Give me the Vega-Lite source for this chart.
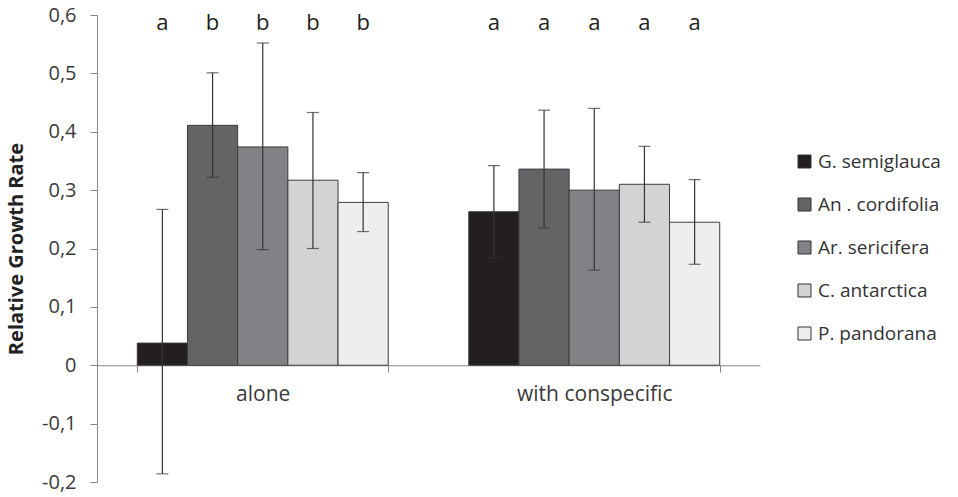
{
  "$schema": "https://vega.github.io/schema/vega-lite/v6.json",
  "width": 663,
  "height": 467,
  "autosize": "none",
  "padding": {"left": 97, "top": 15, "right": 198, "bottom": 15},
  "config": {"view": {"stroke": null}, "font": "Open Sans", "background": "white"},
  "data": {"values": [
    {"group": "alone", "species": "G. semiglauca", "value": 0.038, "lo": -0.186, "hi": 0.267, "letter": "a"},
    {"group": "alone", "species": "An . cordifolia", "value": 0.411, "lo": 0.322, "hi": 0.501, "letter": "b"},
    {"group": "alone", "species": "Ar. sericifera", "value": 0.374, "lo": 0.198, "hi": 0.552, "letter": "b"},
    {"group": "alone", "species": "C. antarctica", "value": 0.317, "lo": 0.2, "hi": 0.433, "letter": "b"},
    {"group": "alone", "species": "P. pandorana", "value": 0.279, "lo": 0.229, "hi": 0.33, "letter": "b"},
    {"group": "with conspecific", "species": "G. semiglauca", "value": 0.263, "lo": 0.184, "hi": 0.342, "letter": "a"},
    {"group": "with conspecific", "species": "An . cordifolia", "value": 0.336, "lo": 0.235, "hi": 0.437, "letter": "a"},
    {"group": "with conspecific", "species": "Ar. sericifera", "value": 0.3, "lo": 0.163, "hi": 0.44, "letter": "a"},
    {"group": "with conspecific", "species": "C. antarctica", "value": 0.31, "lo": 0.245, "hi": 0.375, "letter": "a"},
    {"group": "with conspecific", "species": "P. pandorana", "value": 0.245, "lo": 0.173, "hi": 0.318, "letter": "a"}
  ]},
  "encoding": {
    "x": {
      "field": "group", "type": "nominal", "sort": ["alone", "with conspecific"],
      "scale": {"paddingInner": 0.243, "paddingOuter": 0.1215},
      "axis": {"title": null, "labelAngle": 0, "offset": -116.75, "tickBand": "extent", "labelFontSize": 21, "labelPadding": 11, "labelColor": "#3a3a3a", "domainColor": "#888888", "tickColor": "#888888", "tickSize": 7}
    },
    "xOffset": {
      "field": "species", "type": "nominal",
      "sort": ["G. semiglauca", "An . cordifolia", "Ar. sericifera", "C. antarctica", "P. pandorana"],
      "scale": {"paddingInner": 0, "paddingOuter": 0}
    }
  },
  "layer": [
    {
      "mark": {"type": "bar", "stroke": "#3c3c3c", "strokeWidth": 1},
      "encoding": {
        "y": {
          "field": "value", "type": "quantitative", "title": "Relative Growth Rate",
          "scale": {"domain": [-0.2, 0.6], "nice": false, "zero": false},
          "axis": {
            "values": [-0.2, -0.1, 0, 0.1, 0.2, 0.3, 0.4, 0.5, 0.6],
            "labelExpr": "datum.value == 0 ? '0' : replace(replace(format(datum.value, '.1f'), '.', ','), '\u2212', '-')",
            "grid": false, "labelFontSize": 20, "labelColor": "#3a3a3a", "labelPadding": 14,
            "domainColor": "#888888", "tickColor": "#888888", "tickSize": 7,
            "titleFontSize": 20, "titleFontWeight": "bold", "titleColor": "#222222", "titlePadding": 15
          }
        },
        "color": {
          "field": "species", "type": "nominal",
          "sort": ["G. semiglauca", "An . cordifolia", "Ar. sericifera", "C. antarctica", "P. pandorana"],
          "scale": {"range": ["#231f20", "#646466", "#808285", "#d1d3d4", "#eeeeef"]},
          "legend": {
            "title": null, "orient": "none", "legendX": 698, "legendY": 137,
            "symbolType": "square", "symbolSize": 169, "symbolStrokeColor": "#333333", "symbolStrokeWidth": 1,
            "labelFontSize": 19, "labelColor": "#333333", "rowPadding": 23, "labelOffset": 4
          }
        }
      }
    },
    {
      "mark": {"type": "rule", "color": "#333333", "strokeWidth": 1.2},
      "encoding": {
        "y": {"field": "lo", "type": "quantitative", "title": "Relative Growth Rate"},
        "y2": {"field": "hi"}
      }
    },
    {
      "mark": {"type": "tick", "color": "#333333", "size": 12, "thickness": 1.2},
      "encoding": {"y": {"field": "lo", "type": "quantitative", "title": "Relative Growth Rate"}}
    },
    {
      "mark": {"type": "tick", "color": "#333333", "size": 12, "thickness": 1.2},
      "encoding": {"y": {"field": "hi", "type": "quantitative", "title": "Relative Growth Rate"}}
    },
    {
      "mark": {"type": "text", "fontSize": 22, "color": "#231f20"},
      "encoding": {
        "y": {"datum": 0.587, "type": "quantitative"},
        "text": {"field": "letter"}
      }
    }
  ]
}
